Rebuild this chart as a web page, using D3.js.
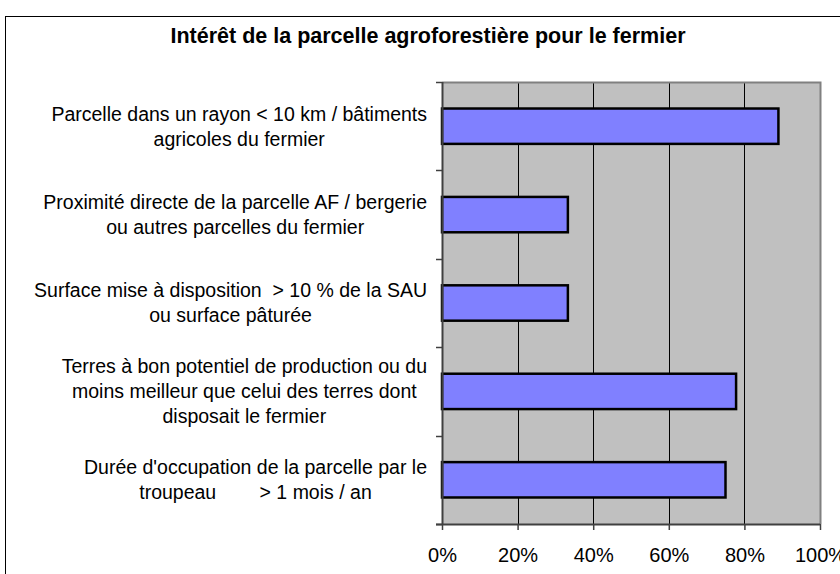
<!DOCTYPE html>
<html>
<head>
<meta charset="utf-8">
<script src="https://cdn.jsdelivr.net/npm/d3@7"></script>
<style>
  body { margin: 0; background: #fff; }
  text { font-family: "Liberation Sans", Arial, sans-serif; }
</style>
</head>
<body>
<script>
// chart data
var title = "Intérêt de la parcelle agroforestière pour le fermier";
var categories = [
  ["Parcelle dans un rayon < 10 km / bâtiments", "agricoles du fermier"],
  ["Proximité directe de la parcelle AF / bergerie", "ou autres parcelles du fermier"],
  ["Surface mise à disposition  > 10 % de la SAU", "ou surface pâturée"],
  ["Terres à bon potentiel de production ou du", "moins meilleur que celui des terres dont", "disposait le fermier"],
  ["Durée d'occupation de la parcelle par le", "troupeau        > 1 mois / an"]
];
var values = [0.89, 0.333, 0.333, 0.778, 0.75];
var xTicks = [0, 0.2, 0.4, 0.6, 0.8, 1];

// layout
var width = 840;
var height = 574;
var plot = {left: 442, top: 82, right: 820, bottom: 524};
var labelRight = 427;

var svg = d3.select("body")
            .append("svg")
            .attr("width", width)
            .attr("height", height);

// outer frame
svg.append("rect")
   .attr("x", 5.5)
   .attr("y", 16.5)
   .attr("width", 850)
   .attr("height", 600)
   .attr("fill", "#fff")
   .attr("stroke", "#000")
   .attr("stroke-width", 1);

var xScale = d3.scaleLinear()
               .domain([0, 1])
               .range([plot.left, plot.right]);

var yScale = d3.scaleBand()
               .domain(d3.range(categories.length))
               .range([plot.top, plot.bottom])
               .paddingInner(0.6)
               .paddingOuter(0.3);

// plot background
svg.append("rect")
   .attr("x", plot.left)
   .attr("y", plot.top)
   .attr("width", plot.right - plot.left)
   .attr("height", plot.bottom - plot.top)
   .attr("fill", "#c0c0c0");

// vertical grid lines
svg.selectAll(".grid")
   .data(xTicks.slice(1, -1))
   .enter()
   .append("line")
   .attr("class", "grid")
   .attr("x1", function(d) { return Math.round(xScale(d)) + 0.5; })
   .attr("x2", function(d) { return Math.round(xScale(d)) + 0.5; })
   .attr("y1", plot.top)
   .attr("y2", plot.bottom)
   .attr("stroke", "#000")
   .attr("stroke-width", 1);

// top and right border of plot
svg.append("path")
   .attr("d", "M" + plot.left + "," + (plot.top + 0.5) + "H" + (plot.right + 0.5) + "V" + plot.bottom)
   .attr("fill", "none")
   .attr("stroke", "#808080")
   .attr("stroke-width", 2);

// bars
svg.selectAll(".bar")
   .data(values)
   .enter()
   .append("rect")
   .attr("class", "bar")
   .attr("x", xScale(0))
   .attr("y", function(d, i) { return yScale(i); })
   .attr("width", function(d) { return xScale(d) - xScale(0); })
   .attr("height", yScale.bandwidth())
   .attr("fill", "#8080ff")
   .attr("stroke", "#000")
   .attr("stroke-width", 2.5);

// y axis with ticks between categories
var bandStep = (plot.bottom - plot.top) / categories.length;
var yAxis = svg.append("g").attr("class", "axis");
yAxis.append("line")
     .attr("x1", plot.left + 0.5)
     .attr("x2", plot.left + 0.5)
     .attr("y1", plot.top)
     .attr("y2", plot.bottom)
     .attr("stroke", "#404040")
     .attr("stroke-width", 2);
yAxis.selectAll(".ytick")
     .data(d3.range(categories.length + 1))
     .enter()
     .append("line")
     .attr("class", "ytick")
     .attr("x1", plot.left - 6)
     .attr("x2", plot.left)
     .attr("y1", function(d) { return Math.round(plot.top + d * bandStep) + 0.5; })
     .attr("y2", function(d) { return Math.round(plot.top + d * bandStep) + 0.5; })
     .attr("stroke", "#404040")
     .attr("stroke-width", 1.5);

// x axis
var xAxis = d3.axisBottom(xScale)
              .tickValues(xTicks)
              .tickFormat(d3.format(".0%"))
              .tickSize(6)
              .tickPadding(18);
var gx = svg.append("g")
            .attr("class", "axis")
            .attr("transform", "translate(0," + plot.bottom + ")")
            .call(xAxis);
gx.select(".domain")
  .attr("d", "M" + (plot.left - 6) + ",0.5H" + plot.right)
  .attr("stroke", "#404040")
  .attr("stroke-width", 2);
gx.selectAll(".tick line").attr("stroke", "#404040").attr("stroke-width", 1.5);
gx.selectAll(".tick text")
  .attr("font-size", 20)
  .attr("font-family", "Liberation Sans, Arial, sans-serif")
  .attr("fill", "#000");

// category labels: lines centred inside a block that ends at labelRight
var lineHeight = 25;
var labels = svg.selectAll(".label")
                .data(categories)
                .enter()
                .append("text")
                .attr("class", "label")
                .attr("text-anchor", "middle")
                .attr("font-size", 19.5)
                .attr("fill", "#000")
                .style("white-space", "pre");
labels.selectAll("tspan")
      .data(function(d) { return d; })
      .enter()
      .append("tspan")
      .attr("x", 0)
      .attr("y", function(d, i) { return i * lineHeight; })
      .attr("dy", "0.35em")
      .text(function(d) { return d; });
labels.attr("transform", function(d, i) {
  var widest = 0;
  d3.select(this).selectAll("tspan").each(function() {
    widest = Math.max(widest, this.getComputedTextLength());
  });
  var cy = yScale(i) + yScale.bandwidth() / 2;
  return "translate(" + (labelRight - widest / 2) + "," + (cy - (d.length - 1) * lineHeight / 2) + ")";
});

// title
svg.append("text")
   .attr("x", 428)
   .attr("y", 43)
   .attr("text-anchor", "middle")
   .attr("font-size", 21.5)
   .attr("font-weight", "bold")
   .text(title);
</script>
</body>
</html>
